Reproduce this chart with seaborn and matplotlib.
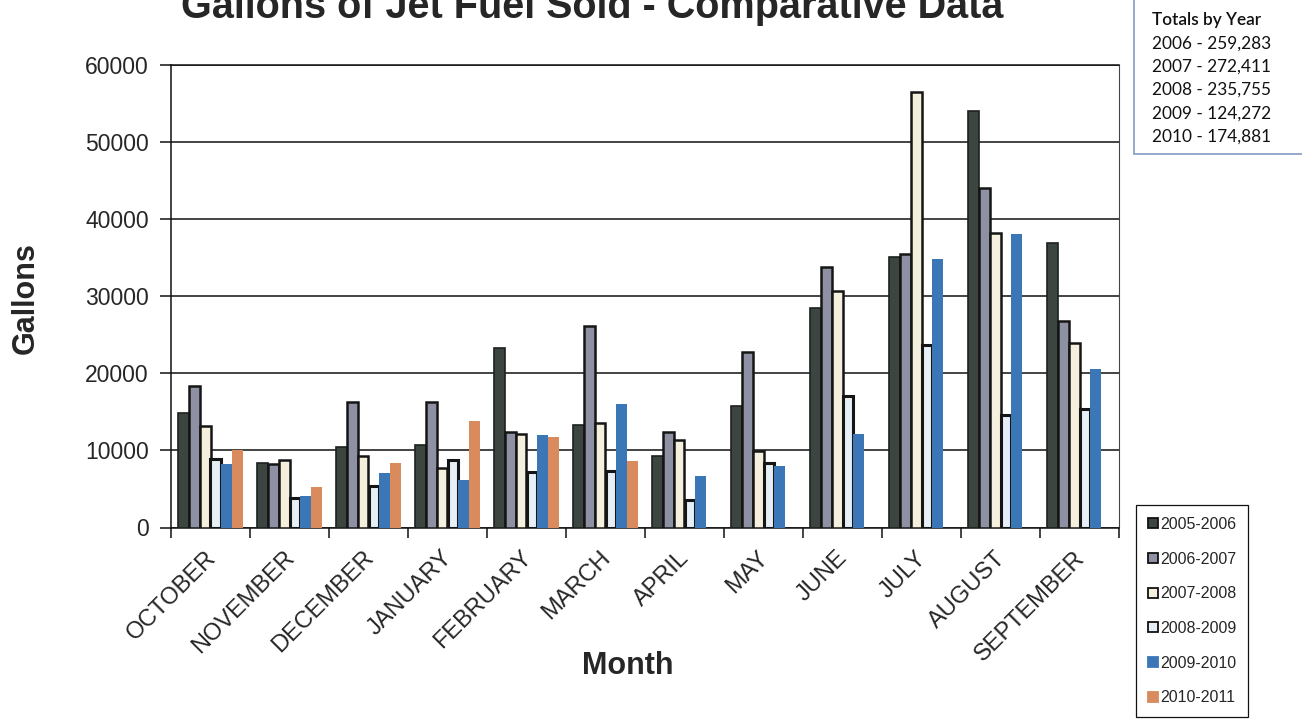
import numpy as np
import pandas as pd
import matplotlib
matplotlib.use("Agg")
import matplotlib.pyplot as plt
import matplotlib.transforms as mtransforms
from matplotlib.patches import Patch, Rectangle
import seaborn as sns

# ---- data -------------------------------------------------------------
months = ["OCTOBER", "NOVEMBER", "DECEMBER", "JANUARY", "FEBRUARY", "MARCH",
          "APRIL", "MAY", "JUNE", "JULY", "AUGUST", "SEPTEMBER"]
seasons = ["2005-2006", "2006-2007", "2007-2008", "2008-2009", "2009-2010", "2010-2011"]

gal_2005_06 = [14900, 8400, 10400, 10700, 23300, 13300, 9300, 15700, 28500, 35000, 54000, 36900]
gal_2006_07 = [18400, 8200, 16300, 16200, 12400, 26100, 12400, 22800, 33700, 35500, 44000, 26800]
gal_2007_08 = [13200, 8800, 9300, 7700, 12100, 13500, 11300, 9900, 30600, 56500, 38100, 23900]
gal_2008_09 = [8900, 3800, 5400, 8800, 7200, 7300, 3600, 8300, 17000, 23600, 14600, 15400]
gal_2009_10 = [8200, 4100, 7000, 6100, 12000, 16000, 6700, 8000, 12100, 34800, 38000, 20600]
gal_2010_11 = [10100, 5300, 8300, 13800, 11700, 8600, np.nan, np.nan, np.nan, np.nan, np.nan, np.nan]

totals_header = "Totals by Year"
totals_lines = ["2006 - 259,283", "2007 - 272,411", "2008 - 235,755",
                "2009 - 124,272", "2010 - 174,881"]

# ---- long table for seaborn -------------------------------------------
series = [gal_2005_06, gal_2006_07, gal_2007_08, gal_2008_09, gal_2009_10, gal_2010_11]
rows = []
for season, vals in zip(seasons, series):
    for m, v in zip(months, vals):
        rows.append({"Month": m, "Season": season, "Gallons": v})
df = pd.DataFrame(rows).dropna()

fill_colors = ["#3c4540", "#8e90a4", "#f4f0dd", "#e6eef6", "#3b77b7", "#d98b5e"]
edge_colors = ["#1c211e", "#151515", "#151515", "#151515", "none", "none"]
edge_widths = [1.2, 1.8, 1.8, 2.2, 0, 0]

sns.set_style("white")
plt.rcParams["font.family"] = ["Liberation Sans", "DejaVu Sans"]

W, H = 1302, 719
fig = plt.figure(figsize=(W / 100, H / 100), dpi=100)
fig.patch.set_facecolor("white")

ax_left, ax_right, ax_top, ax_bottom = 171, 1119, 64.5, 527.5
ax = fig.add_axes([ax_left / W, 1 - ax_bottom / H,
                   (ax_right - ax_left) / W, (ax_bottom - ax_top) / H])

sns.barplot(data=df, x="Month", y="Gallons", hue="Season",
            order=months, hue_order=seasons, palette=fill_colors,
            errorbar=None, width=0.82, gap=0, saturation=1,
            legend=False, ax=ax, zorder=3)

for cont, ec, lw in zip(ax.containers, edge_colors, edge_widths):
    for bar in cont:
        bar.set_edgecolor(ec)
        bar.set_linewidth(lw)
        bar.set_zorder(3)

# axes and grid
ax.set_xlim(-0.5, len(months) - 0.5)
ax.set_ylim(0, 60000)
ax.set_yticks(np.arange(0, 60001, 10000))
ax.yaxis.grid(True, color="#111111", linewidth=1.1, zorder=1)
ax.xaxis.grid(False)
ax.set_axisbelow(True)
for s in ax.spines.values():
    s.set_visible(True)
    s.set_color("#111111")
    s.set_linewidth(1.1)
ax.spines["right"].set_color("#444444")
ax.spines["right"].set_linewidth(0.8)

ax.tick_params(axis="y", which="major", direction="out", length=8, width=1.1,
               color="#111111", pad=8, labelsize=16.5, left=True)
ax.set_xticks(range(len(months)))
ax.set_xticks(np.arange(-0.5, len(months), 1.0), minor=True)
ax.tick_params(axis="x", which="major", length=0, pad=14, labelsize=17)
ax.tick_params(axis="x", which="minor", direction="out", length=7, width=1.1,
               color="#111111", bottom=True)
ax.set_xticklabels(months, rotation=45, ha="right", va="top",
                   rotation_mode="anchor")
shift = mtransforms.ScaledTranslation(-6 / 100, 0, fig.dpi_scale_trans)
for lab in ax.get_xticklabels():
    lab.set_transform(lab.get_transform() + shift)

ax.set_xlabel("Month", fontsize=22, fontweight="bold", va="center")
ax.xaxis.set_label_coords((628 - ax_left) / (ax_right - ax_left),
                          -(666 - ax_bottom) / (ax_bottom - ax_top))
ax.set_ylabel("Gallons", fontsize=22, fontweight="bold", va="center")
ax.yaxis.set_label_coords((26 - ax_left) / (ax_right - ax_left),
                          (ax_bottom - 298) / (ax_bottom - ax_top))

fig.text(592 / W, 1 - 18 / H, "Gallons of Jet Fuel Sold - Comparative Data",
         ha="center", va="baseline", fontsize=28.5, fontweight="bold")

# season legend (lower right)
handles = [Patch(facecolor=fc, edgecolor=("#111111" if i < 4 else fc), linewidth=1.3)
           for i, fc in enumerate(fill_colors)]
leg = fig.legend(handles, seasons, loc="upper left",
                 bbox_to_anchor=(1136 / W, 1 - 505 / H), bbox_transform=fig.transFigure,
                 fontsize=11.5, frameon=True, fancybox=False, framealpha=1,
                 edgecolor="#111111", borderpad=0.75, labelspacing=1.23,
                 handlelength=0.6, handleheight=0.6, handletextpad=0.15,
                 borderaxespad=0)
leg.get_frame().set_linewidth(0.9)

# yearly totals box (upper right)
fig.add_artist(Rectangle((1134 / W, 1 - 154 / H), 0.2, 0.3,
                         transform=fig.transFigure, facecolor="white",
                         edgecolor="#8ea3c9", linewidth=1.3))
line_y = [20, 43.3, 66.7, 90, 113.3, 136.7]
for txt, yy in zip([totals_header] + totals_lines, line_y):
    fig.text(1152 / W, 1 - yy / H, txt, ha="left", va="center",
             fontsize=12.4, family=["Lato", "DejaVu Sans"], color="#111111",
             fontweight=("semibold" if txt == totals_header else "normal"))

fig.savefig("out.png", dpi=100, facecolor="white")
